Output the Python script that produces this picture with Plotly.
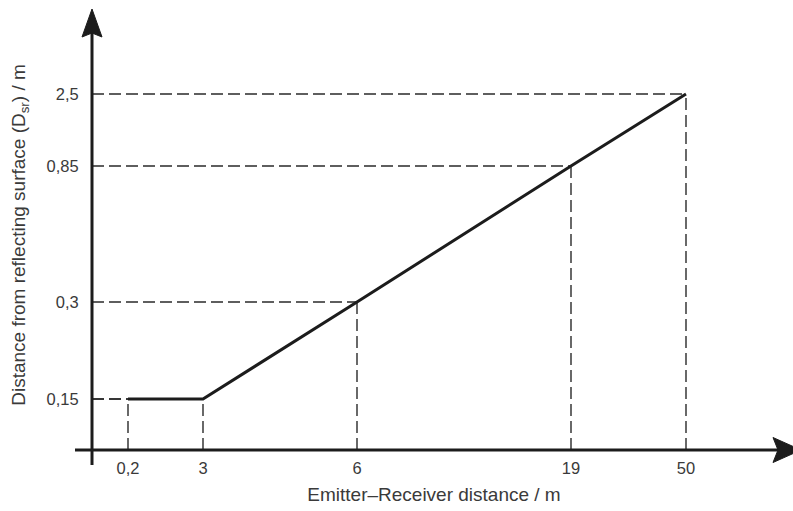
import plotly.graph_objects as go

# ---- data ----
distance_m = [0.2, 3, 6, 19, 50]            # emitter-receiver distance
dsr_m = [0.15, 0.15, 0.3, 0.85, 2.5]        # distance from reflecting surface
x_labels = ["0,2", "3", "6", "19", "50"]
y_values = [0.15, 0.3, 0.85, 2.5]
y_labels = ["0,15", "0,3", "0,85", "2,5"]

# schematic (not-to-scale) axis positions of the labelled values
x_axis_pos = [36, 111, 265, 479, 594]
y_axis_pos = [51, 148, 284, 356]

xmap = dict(zip(distance_m, x_axis_pos))
ymap = dict(zip(y_values, y_axis_pos))
px_ = [xmap[d] for d in distance_m]
py_ = [ymap[v] for v in dsr_m]

FONT = "Liberation Sans"
TXT = "#3a3a3a"
INK = "#1c1c1c"

W, H = 793, 511
L, R, T, B = 75, 0, 5, 46
X_RANGE = [-17, W - L - R - 17]
Y_RANGE = [-15, H - T - B - 15]

fig = go.Figure()

# dashed guide lines
for xp, yp in zip(px_, py_):
    fig.add_trace(go.Scatter(x=[0, xp], y=[yp, yp], mode="lines",
                             line=dict(color="#2a2a2a", width=1.4, dash="12px,5px"),
                             hoverinfo="skip", showlegend=False))
    fig.add_trace(go.Scatter(x=[xp, xp], y=[0, yp], mode="lines",
                             line=dict(color="#2a2a2a", width=1.4, dash="12px,5px"),
                             hoverinfo="skip", showlegend=False))

# main curve
fig.add_trace(go.Scatter(x=px_, y=py_, mode="lines",
                         line=dict(color=INK, width=3),
                         hoverinfo="skip", showlegend=False))

# axes lines
fig.add_shape(type="line", xref="x", yref="y", x0=X_RANGE[0], x1=X_RANGE[1] - 10,
              y0=0, y1=0, line=dict(color=INK, width=3))
fig.add_shape(type="line", xref="x", yref="y", x0=0, x1=0,
              y0=Y_RANGE[0], y1=Y_RANGE[1] - 15, line=dict(color=INK, width=3))
# arrow heads (the right one runs off the edge, as in the original)
fig.add_shape(type="path", xref="x", yref="y", xsizemode="pixel", ysizemode="pixel",
              xanchor=X_RANGE[1] + 8, yanchor=0,
              path="M0,0 L-28,-12.5 L-23,0 L-28,12.5 Z",
              fillcolor=INK, line=dict(color=INK, width=1))
fig.add_shape(type="path", xref="x", yref="y", xsizemode="pixel", ysizemode="pixel",
              xanchor=0, yanchor=441,
              path="M0,0 L-10,-28 L0,-24 L10,-28 Z",
              fillcolor=INK, line=dict(color=INK, width=1))

fig.update_layout(
    width=W, height=H,
    margin=dict(l=L, r=R, t=T, b=B, autoexpand=False),
    paper_bgcolor="white", plot_bgcolor="white",
    font=dict(family=FONT, color=TXT, size=16),
    xaxis=dict(range=X_RANGE, showgrid=False, zeroline=False, showline=False,
               tickvals=x_axis_pos, ticktext=x_labels, ticks="outside", ticklen=3,
               tickcolor="rgba(0,0,0,0)", tickfont=dict(size=16.5, color=TXT),
               anchor="free", position=15 / (H - T - B), automargin=False,
               title=dict(text="Emitter\u2013Receiver distance / m",
                          font=dict(size=19, color=TXT), standoff=11)),
    yaxis=dict(range=Y_RANGE, showgrid=False, zeroline=False, showline=False,
               tickvals=y_axis_pos, ticktext=y_labels, ticks="outside", ticklen=10,
               tickcolor="rgba(0,0,0,0)", tickfont=dict(size=16.5, color=TXT),
               anchor="free", position=17 / (W - L - R), automargin=False,
               title=dict(text="Distance from reflecting surface (D<sub>sr</sub>) / m",
                          font=dict(size=19, color=TXT), standoff=14)),
)

fig.write_html("out.html", config={"displayModeBar": False},
               post_script="document.body.style.margin='0';document.body.style.overflow='hidden';")
